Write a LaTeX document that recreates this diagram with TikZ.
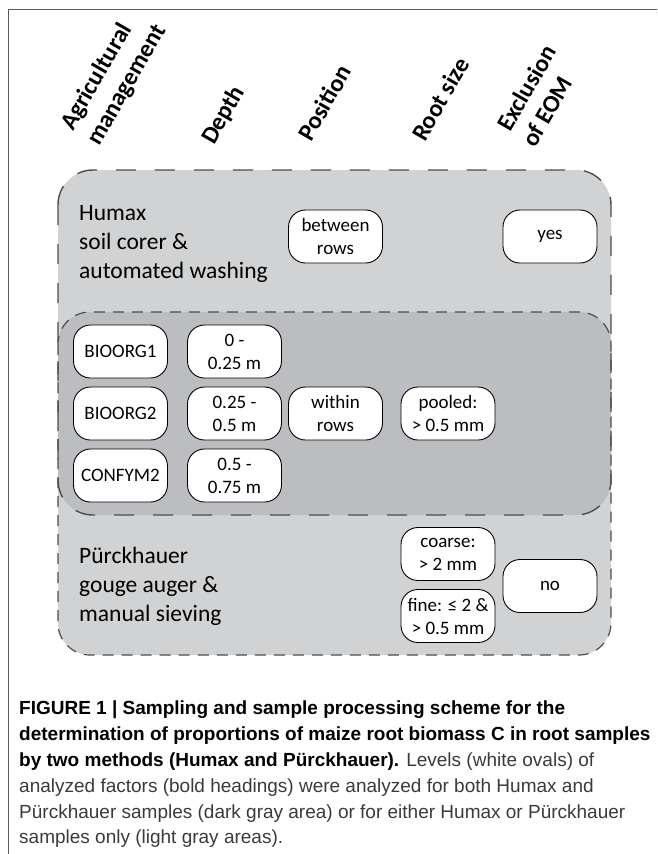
\documentclass[tikz,border=0pt]{standalone}
\usepackage{fontspec}
\setmainfont{Carlito}
\newfontfamily\capfont{Liberation Sans}
\usepackage{tikz}
\definecolor{lightarea}{HTML}{D1D2D4}
\definecolor{darkarea}{HTML}{BCBDC0}
\definecolor{edgegray}{HTML}{4D4D4D}
\definecolor{framegray}{HTML}{5A5A5A}
\definecolor{captext}{HTML}{3A3A3A}

\begin{document}
\begin{tikzpicture}[x=1pt,y=-1pt,
   oval/.style={rectangle,draw,fill=white,rounded corners=17pt,line width=0.9pt,
    minimum width=94pt,minimum height=53pt,inner sep=0pt,align=center,
    font=\fontsize{19}{23}\selectfont},
   head/.style={anchor=base west,rotate=60,inner sep=0pt,
    font=\fontsize{24.5}{29}\selectfont\bfseries},
   method/.style={anchor=north west,inner sep=0pt,align=left,
    font=\fontsize{23.5}{29}\selectfont},
   humaxline/.style={draw=edgegray,line width=1.4pt,dash pattern=on 20pt off 19pt},
   purckline/.style={draw=edgegray,line width=1.2pt,dash pattern=on 11pt off 8pt}
    ]
  \useasboundingbox (0,0) rectangle (657,854);

  % -- frame
  \draw[framegray,line width=1pt] (657,9) -- (8,9) -- (8,854);

  % -- areas (light: one method only, dark: both)
  \fill[lightarea,rounded corners=35pt] (58,170) rectangle (611,515);
  \fill[lightarea,rounded corners=32pt] (58,312) rectangle (611,655);
  \begin{scope}
    \clip[rounded corners=35pt] (58,170) rectangle (611,515);
    \fill[darkarea,rounded corners=32pt] (58,312) rectangle (611,655);
  \end{scope}
  \draw[humaxline,rounded corners=35pt] (58,170) rectangle (611,515);
  \draw[purckline,rounded corners=32pt] (58,312) rectangle (611,655);

  % -- headings
  \node[head] at (73,132) (hagri) {Agricultural};
  \node[head] at (99,147) (hmanage) {management};
  \node[head] at (214,146) (hdepth) {Depth};
  \node[head] at (311,143) (hposition) {Position};
  \node[head] at (425,143) (hroot) {Root size};
  \node[head] at (510,133) (hexcl) {Exclusion};
  \node[head] at (535,149) (heom) {of EOM};

  % -- methods
  \node[method] at (79,205) (humax) {Humax\\soil corer \&\\automated washing};
  \node[method] at (79,547) (purck) {Pürckhauer\\gouge auger \&\\manual sieving};

  % -- Humax only
  \node[oval] at (335.5,236.5) (obetween) {between\\rows};
  \node[oval] at (550,236.5) (oyes) {yes};

  % -- both methods
  \node[oval] at (120.5,351.5) (obio1) {BIOORG1};
  \node[oval] at (234.5,351.5) (odepth1) {0 -\\0.25 m};
  \node[oval] at (120.5,413.5) (obio2) {BIOORG2};
  \node[oval] at (234.5,413.5) (odepth2) {0.25 -\\0.5 m};
  \node[oval] at (335.5,413.5) (owithin) {within\\rows};
  \node[oval] at (448,413.5) (opooled) {pooled:\\> 0.5 mm};
  \node[oval] at (120.5,475.5) (oconf) {CONFYM2};
  \node[oval] at (234.5,475.5) (odepth3) {0.5 -\\0.75 m};

  % -- Puerckhauer only
  \node[oval] at (448,554) (ocoarse) {coarse:\\> 2 mm};
  \node[oval] at (448,616) (ofine) {fine: ≤ 2 \&\\> 0.5 mm};
  \node[oval] at (550,586) (ono) {no};

  % -- caption
  \node[anchor=north west,inner sep=0pt,align=left,
    font=\capfont\fontsize{19}{25.8}\selectfont] at (19,701) (caption)
    {\bfseries FIGURE 1 | Sampling and sample processing scheme for the\\
     \bfseries determination of proportions of maize root biomass C in root samples\\
     \bfseries by two methods (Humax and Pürckhauer). \mdseries\color{captext}Levels (white ovals) of\\
     \color{captext}analyzed factors (bold headings) were analyzed for both Humax and\\
     \color{captext}Pürckhauer samples (dark gray area) or for either Humax or Pürckhauer\\
     \color{captext}samples only (light gray areas).};
\end{tikzpicture}
\end{document}
